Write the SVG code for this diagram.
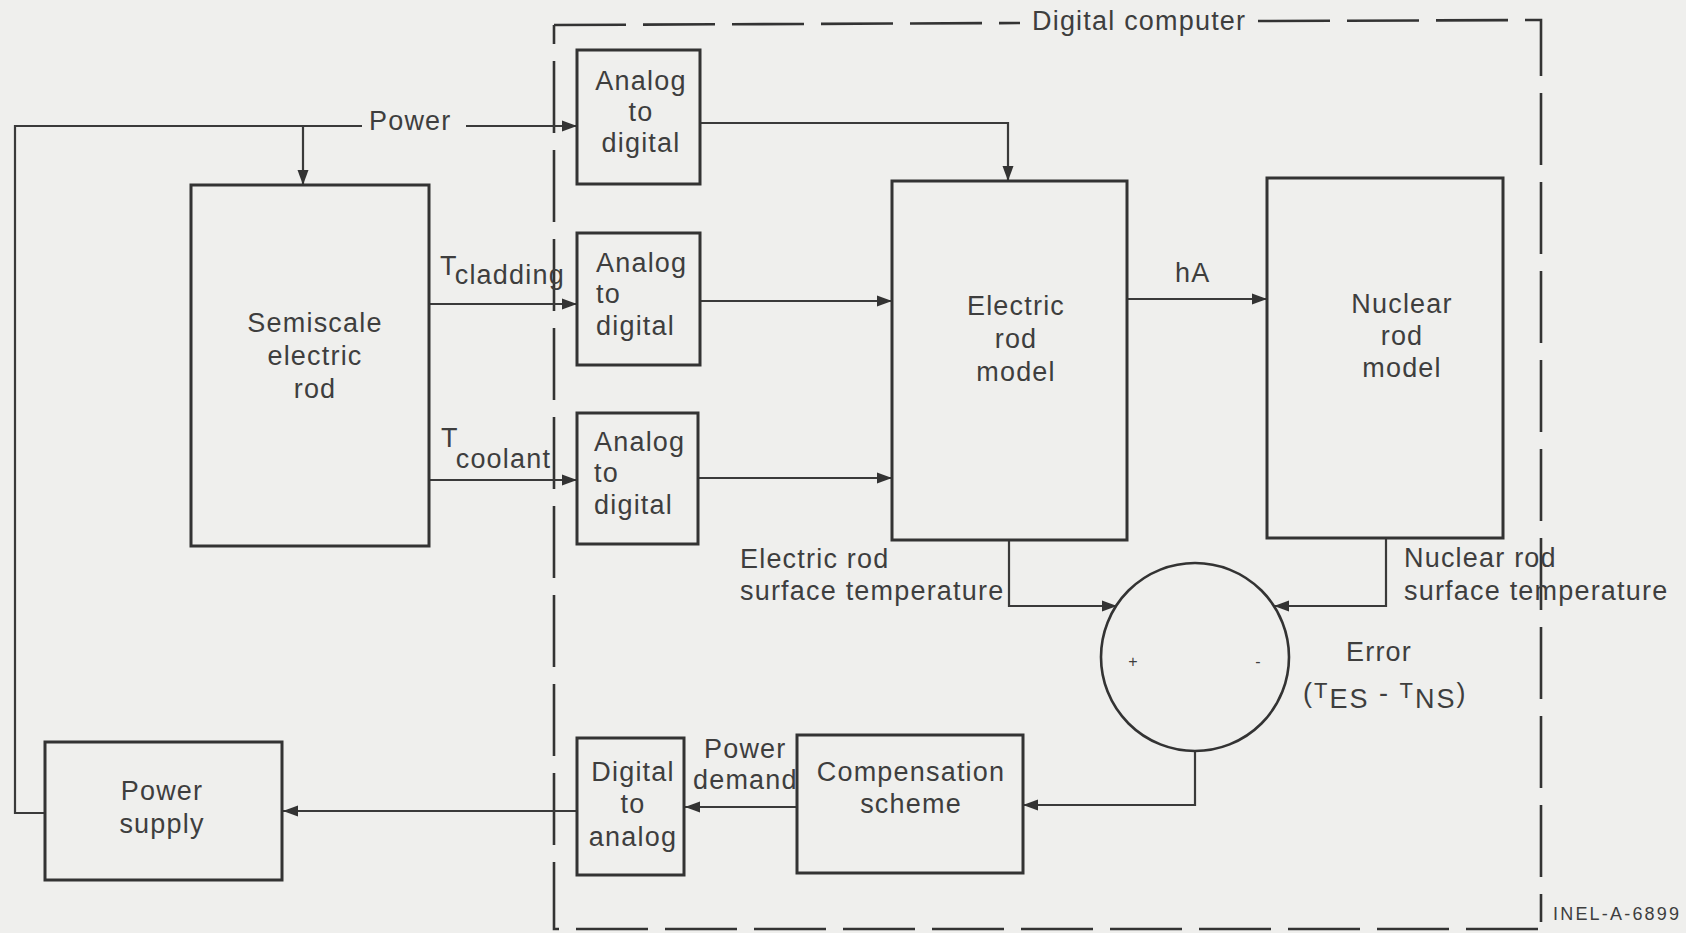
<svg xmlns="http://www.w3.org/2000/svg" width="1686" height="933" viewBox="0 0 1686 933">
<style>
.t{font-family:"Liberation Sans",Arial,sans-serif;font-size:27px;letter-spacing:1.2px;fill:#3e3e3e}
.m{text-anchor:middle}
.box{fill:none;stroke:#333;stroke-width:3}
.c{fill:none;stroke:#3a3a3a;stroke-width:2.2}
.ca{fill:none;stroke:#3a3a3a;stroke-width:2.2;marker-end:url(#ah)}
.dash{fill:none;stroke:#333;stroke-width:2.6;stroke-dasharray:72 17}
</style>
<defs>
<marker id="ah" markerUnits="userSpaceOnUse" markerWidth="16" markerHeight="12" refX="15" refY="6" orient="auto">
<path d="M0,0.5 L15,6 L0,11.5 z" fill="#333"/>
</marker>
</defs>
<rect width="1686" height="933" fill="#efefed"/>

<g id="digital-computer-boundary">
<path class="dash" d="M554,25 L1020,23"/>
<path class="dash" d="M1258,21 L1541,20 L1541,922"/>
<path class="dash" d="M1538,929 L554,929 L554,25"/>
<text class="t" x="1032" y="30">Digital computer</text>
</g>

<g id="connectors">
<path class="c" d="M45,813 L15,813 L15,126 L362,126"/>
<path class="ca" d="M466,126 L577,126"/>
<path class="ca" d="M303,126 L303,185"/>
<path class="ca" d="M430,304 L577,304"/>
<path class="ca" d="M430,480 L577,480"/>
<path class="ca" d="M701,123 L1008,123 L1008,181"/>
<path class="ca" d="M701,301 L892,301"/>
<path class="ca" d="M699,478 L892,478"/>
<path class="ca" d="M1127,299 L1267,299"/>
<path class="ca" d="M1009,540 L1009,606 L1117,606"/>
<path class="ca" d="M1386,538 L1386,606 L1274,606"/>
<path class="ca" d="M1195,751 L1195,805 L1023,805"/>
<path class="ca" d="M797,807 L685,807"/>
<path class="ca" d="M577,811 L283,811"/>
<text class="t" x="369" y="130">Power</text>
<text class="t" x="440" y="275">T<tspan dy="9">cladding</tspan></text>
<text class="t" x="441" y="447">T<tspan dy="21">coolant</tspan></text>
<text class="t" x="1175" y="282">hA</text>
<text class="t" x="740" y="568">Electric rod</text>
<text class="t" x="740" y="600">surface temperature</text>
<text class="t" x="1404" y="567">Nuclear rod</text>
<text class="t" x="1404" y="600">surface temperature</text>
<text class="t" x="1346" y="661">Error</text>
<text class="t" x="1303" y="702" style="letter-spacing:2px">(<tspan font-size="22" dy="-4">T</tspan><tspan dy="10">ES</tspan><tspan dy="-6"> - </tspan><tspan font-size="22" dy="-4">T</tspan><tspan dy="10">NS</tspan><tspan dy="-6">)</tspan></text>
<text class="t" x="704" y="758">Power</text>
<text class="t" x="693" y="789">demand</text>
</g>

<g id="analog-to-digital-power">
<rect class="box" x="577" y="50" width="123" height="134"/>
<text class="t m" x="641" y="90">Analog</text>
<text class="t m" x="641" y="121">to</text>
<text class="t m" x="641" y="152">digital</text>
</g>

<g id="analog-to-digital-cladding">
<rect class="box" x="577" y="233" width="123" height="132"/>
<text class="t" x="596" y="272">Analog</text>
<text class="t" x="596" y="303">to</text>
<text class="t" x="596" y="335">digital</text>
</g>

<g id="analog-to-digital-coolant">
<rect class="box" x="577" y="413" width="121" height="131"/>
<text class="t" x="594" y="451">Analog</text>
<text class="t" x="594" y="482">to</text>
<text class="t" x="594" y="514">digital</text>
</g>

<g id="semiscale-electric-rod">
<rect class="box" x="191" y="185" width="238" height="361"/>
<text class="t m" x="315" y="332">Semiscale</text>
<text class="t m" x="315" y="365">electric</text>
<text class="t m" x="315" y="398">rod</text>
</g>

<g id="electric-rod-model">
<rect class="box" x="892" y="181" width="235" height="359"/>
<text class="t m" x="1016" y="315">Electric</text>
<text class="t m" x="1016" y="348">rod</text>
<text class="t m" x="1016" y="381">model</text>
</g>

<g id="nuclear-rod-model">
<rect class="box" x="1267" y="178" width="236" height="360"/>
<text class="t m" x="1402" y="313">Nuclear</text>
<text class="t m" x="1402" y="345">rod</text>
<text class="t m" x="1402" y="377">model</text>
</g>

<g id="summing-junction">
<circle cx="1195" cy="657" r="94" fill="none" stroke="#333" stroke-width="2.6"/>
<text class="t m" x="1133" y="667" style="font-size:16px;letter-spacing:0">+</text>
<text class="t m" x="1258" y="667" style="font-size:16px;letter-spacing:0">-</text>
</g>

<g id="compensation-scheme">
<rect class="box" x="797" y="735" width="226" height="138"/>
<text class="t m" x="911" y="781">Compensation</text>
<text class="t m" x="911" y="813">scheme</text>
</g>

<g id="digital-to-analog">
<rect class="box" x="577" y="738" width="107" height="137"/>
<text class="t m" x="633" y="781">Digital</text>
<text class="t m" x="633" y="813">to</text>
<text class="t m" x="633" y="846">analog</text>
</g>

<g id="power-supply">
<rect class="box" x="45" y="742" width="237" height="138"/>
<text class="t m" x="162" y="800">Power</text>
<text class="t m" x="162" y="833">supply</text>
</g>

<text class="t" x="1553" y="920" style="font-size:18px;letter-spacing:2.2px">INEL-A-6899</text>
</svg>
